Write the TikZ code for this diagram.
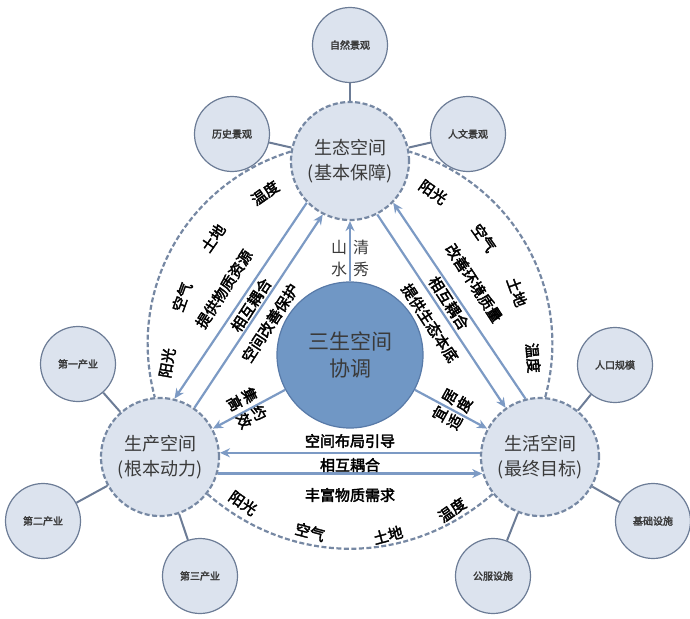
\documentclass[tikz,border=0pt]{standalone}
\usepackage{fontspec}
\newfontfamily\cjk[AutoFakeBold=2.5, BoldFeatures={FakeBold=1.2}]{Noto Sans CJK SC}
\usepackage{xcolor}
\definecolor{nodefill}{RGB}{220, 227, 238}
\definecolor{nodeedge}{RGB}{118, 136, 163}
\definecolor{smalledge}{RGB}{108, 124, 150}
\definecolor{arrowblue}{RGB}{124, 154, 196}
\definecolor{corefill}{RGB}{112, 151, 197}
\definecolor{coreedge}{RGB}{88, 122, 168}
\definecolor{textgray}{RGB}{58, 58, 58}
\usepackage{tikz}
\usetikzlibrary{arrows.meta, calc}

\tikzset{
    bignode/.style={circle, draw=nodeedge, fill=nodefill, line width=2.2pt, dash pattern=on 5pt off 2.5pt,
        minimum size=118pt, inner sep=0pt, align=center, text=textgray, font=\cjk\fontsize{18}{25}\selectfont},
    corenode/.style={circle, draw=coreedge, fill=corefill, line width=1.2pt, minimum size=146pt,
        inner sep=0pt, align=center, text=textgray, font=\cjk\fontsize{21}{27}\selectfont},
    smallnode/.style={circle, draw=smalledge, fill=nodefill, line width=1.2pt, minimum size=75pt,
        inner sep=0pt, text=textgray, font=\cjk\bfseries\fontsize{10}{12}\selectfont},
    link/.style={draw=smalledge, line width=2pt},
    flow/.style={->, draw=arrowblue, line width=2.2pt},
    ring/.style={draw=nodeedge, line width=2.2pt, dash pattern=on 5pt off 2.5pt},
    tag/.style={inner sep=0pt, align=center, text=black, font=\cjk\bfseries\fontsize{15}{17}\selectfont},
    motto/.style={inner sep=0pt, align=center, text=textgray, font=\cjk\fontsize{16}{22}\selectfont}
}

\begin{document}
\begin{tikzpicture}[x=1pt, y=1pt, >={Stealth[length=10pt, width=9pt]}]
    \useasboundingbox (0,0) rectangle (690,-618);

    \node[bignode] (eco) at (350,-161) {生态空间\\(基本保障)};
    \node[bignode] (prod) at (160,-457) {生产空间\\(根本动力)};
    \node[bignode] (life) at (540,-457) {生活空间\\(最终目标)};
    \node[corenode] (core) at (350,-355) {三生空间\\协调};

    \node[smallnode] (natural) at (350,-45) {自然景观};
    \node[smallnode] (history) at (232,-134) {历史景观};
    \node[smallnode] (culture) at (468,-134) {人文景观};
    \node[smallnode] (first) at (78,-364) {第一产业};
    \node[smallnode] (second) at (43,-521) {第二产业};
    \node[smallnode] (third) at (200,-576) {第三产业};
    \node[smallnode] (people) at (615,-365) {人口规模};
    \node[smallnode] (infra) at (653,-521) {基础设施};
    \node[smallnode] (service) at (493,-576) {公服设施};

    \foreach \a/\b in {natural/eco, history/eco, culture/eco, first/prod, second/prod, third/prod, people/life, infra/life, service/life}
        \draw[link] (\a) -- (\b);

    \draw[ring] (eco.171) to[bend right=44] (prod.95);
    \draw[ring] (prod.-38) to[bend right=41] (life.218);
    \draw[ring] (life.85) to[bend right=44] (eco.9);

    \draw[flow] (eco.224) -- (prod.76);
    \draw[flow] (prod.55) -- (eco.243);
    \draw[flow] (life.104) -- (eco.316);
    \draw[flow] (eco.297) -- (life.125);
    \draw[flow] (life.176) -- (prod.4);
    \draw[flow] (prod.344) -- (life.196);
    \draw[flow] (core) -- (eco);
    \draw[flow] (core) -- (prod);
    \draw[flow] (core) -- (life);

    \node[motto] (ecoMotto) at (350,-258) {山\hspace{6pt}清\\水\hspace{6pt}秀};
    \node[tag, rotate=-62] (prodMotto) at (247,-408) {集\hspace{5pt}约\\高\hspace{5pt}效};
    \node[tag, rotate=61] (lifeMotto) at (452,-409) {宜\hspace{5pt}居\\适\hspace{5pt}度};

    \node[tag, rotate=57] (supplyRes) at (224,-289) {提供物质资源};
    \node[tag, rotate=57] (coupleL) at (251,-305) {相互耦合};
    \node[tag, rotate=57] (improveSp) at (270,-323) {空间改善保护};
    \node[tag, rotate=-57] (improveEnv) at (474,-283) {改善环境质量};
    \node[tag, rotate=-57] (coupleR) at (449,-303) {相互耦合};
    \node[tag, rotate=-57] (supplyBase) at (430,-323) {提供生态本底};
    \node[tag] (guide) at (350,-441) {空间布局引导};
    \node[tag] (coupleB) at (350,-465) {相互耦合};
    \node[tag] (demand) at (350,-495) {丰富物质需求};

    \node[tag, rotate=80] (sunL) at (167,-363) {阳光};
    \node[tag, rotate=70] (airL) at (182,-297) {空气};
    \node[tag, rotate=55] (landL) at (213,-238) {土地};
    \node[tag, rotate=35] (tempL) at (265,-193) {温度};
    \node[tag, rotate=-35] (sunR) at (433,-192) {阳光};
    \node[tag, rotate=-55] (airR) at (484,-238) {空气};
    \node[tag, rotate=-70] (landR) at (517,-292) {土地};
    \node[tag, rotate=-85] (tempR) at (533,-358) {温度};
    \node[tag, rotate=-35] (sunB) at (243,-503) {阳光};
    \node[tag, rotate=-15] (airB) at (310,-532) {空气};
    \node[tag, rotate=15] (landB) at (388,-535) {土地};
    \node[tag, rotate=35] (tempB) at (452,-510) {温度};
\end{tikzpicture}
\end{document}
